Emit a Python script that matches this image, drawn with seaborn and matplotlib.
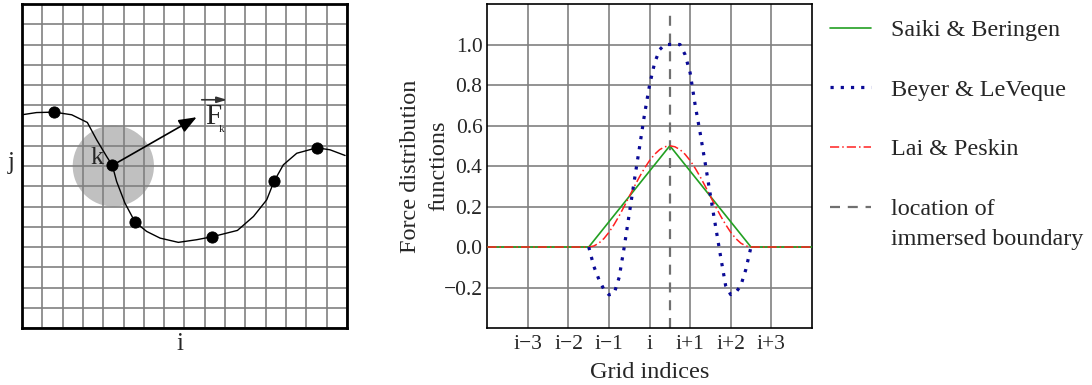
import numpy as np
import matplotlib
matplotlib.use("Agg")
import matplotlib.pyplot as plt
import seaborn as sns
from matplotlib.patches import Circle

# ---------------- data ----------------
# left panel: immersed boundary curve on a 16x16 grid
curve_x = [0.0, 0.72, 1.59, 2.45, 3.22, 3.68, 4.17, 4.45, 4.66, 5.07, 5.57, 6.14, 6.80,
           7.70, 8.60, 9.38, 10.61, 11.40, 12.05, 12.41, 12.87, 13.53, 14.52, 15.17, 15.91]
curve_y = [10.53, 10.64, 10.66, 10.53, 10.15, 9.29, 8.47, 8.03, 7.24, 6.17, 5.23, 4.77, 4.44,
           4.23, 4.36, 4.51, 4.82, 5.51, 6.33, 7.24, 8.06, 8.63, 8.90, 8.80, 8.52]
marker_x = [1.59, 4.45, 5.57, 9.38, 12.41, 14.52]
marker_y = [10.66, 8.03, 5.23, 4.51, 7.24, 8.90]
force_start = (4.45, 8.03)
force_end = (8.60, 10.41)

# right panel: force distribution functions
saiki_x = [-4.0, -1.5, 0.5, 2.5, 4.0]
saiki_y = [0.0, 0.0, 0.5, 0.0, 0.0]

beyer_x = [-1.5, -1.375, -1.25, -1.125, -1.0, -0.875, -0.75, -0.625, -0.5, -0.375, -0.25,
           -0.125, 0.0, 0.125, 0.25, 0.375, 0.5, 0.625, 0.75, 0.875, 1.0, 1.125, 1.25,
           1.375, 1.5, 1.625, 1.75, 1.875, 2.0, 2.125, 2.25, 2.375, 2.5]
beyer_y = [0.0, -0.095, -0.16, -0.21, -0.236, -0.23, -0.15, 0.0, 0.165, 0.33, 0.49,
           0.655, 0.80, 0.91, 0.975, 1.0, 1.0, 1.0, 1.0, 0.95, 0.86, 0.70, 0.56,
           0.41, 0.255, 0.105, -0.045, -0.19, -0.235, -0.225, -0.19, -0.11, 0.0]

lai_x = [-4.0, -1.5, -1.375, -1.25, -1.125, -1.0, -0.875, -0.75, -0.625, -0.5, -0.375, -0.25,
         -0.125, 0.0, 0.125, 0.25, 0.375, 0.5, 0.625, 0.75, 0.875, 1.0, 1.125, 1.25,
         1.375, 1.5, 1.625, 1.75, 1.875, 2.0, 2.125, 2.25, 2.375, 2.5, 4.0]
lai_y = [0.0, 0.0, 0.005, 0.019, 0.042, 0.073, 0.111, 0.154, 0.201, 0.25, 0.299, 0.346,
         0.389, 0.427, 0.458, 0.481, 0.495, 0.5, 0.495, 0.481, 0.458, 0.427, 0.389, 0.346,
         0.299, 0.25, 0.201, 0.154, 0.111, 0.073, 0.042, 0.019, 0.005, 0.0, 0.0]

boundary_x = 0.5

x_ticks = [-3, -2, -1, 0, 1, 2, 3]
x_tick_labels = ["i\u22123", "i\u22122", "i\u22121", "i", "i+1", "i+2", "i+3"]
y_ticks = [-0.2, 0.0, 0.2, 0.4, 0.6, 0.8, 1.0]
y_tick_labels = ["\u22120.2", "0.0", "0.2", "0.4", "0.6", "0.8", "1.0"]

legend_labels = ["Saiki & Beringen", "Beyer & LeVeque", "Lai & Peskin", "location of"]
legend_extra_line = "immersed boundary"

# ---------------- style ----------------
sns.set_theme(style="white")
plt.rcParams["font.family"] = ["Liberation Serif", "DejaVu Serif"]

fig = plt.figure(figsize=(10.92, 3.85), dpi=100)
axL = fig.add_axes([0.0201, 0.148, 0.2976, 0.8416])
axR = fig.add_axes([0.4463, 0.148, 0.2971, 0.8416])

# ---------------- left panel ----------------
axL.set_xlim(0, 16)
axL.set_ylim(0, 16)
axL.set_xticks(range(17))
axL.set_yticks(range(17))
axL.set_xticklabels([])
axL.set_yticklabels([])
axL.tick_params(length=0)
axL.set_axisbelow(True)
axL.grid(True, color="#808080", lw=1.2)
for s in axL.spines.values():
    s.set_color("black")
    s.set_linewidth(2.0)

axL.add_patch(Circle((4.5, 8.0), 2.0, facecolor="#c0c0c0", edgecolor="none", zorder=0.2))
sns.lineplot(x=curve_x, y=curve_y, sort=False, estimator=None, ax=axL,
             color="black", lw=1.0, zorder=3)
sns.scatterplot(x=marker_x, y=marker_y, ax=axL, color="black", s=65, zorder=4,
                edgecolor="black")
axL.annotate("", xy=force_end, xytext=force_start,
             arrowprops=dict(arrowstyle="-|>,head_length=0.9,head_width=0.35",
                             color="black", lw=1.2, shrinkA=0, shrinkB=0), zorder=5)
axL.annotate("", xy=(10.1, 11.27), xytext=(8.85, 11.27),
             arrowprops=dict(arrowstyle="-|>,head_length=0.5,head_width=0.15",
                             color="#333333", lw=1.2, shrinkA=0, shrinkB=0), zorder=5)
axL.text(9.43, 10.42, "F", fontsize=21, ha="center", va="center", zorder=6)
axL.text(9.85, 9.80, "k", fontsize=8, ha="center", va="center", zorder=6)
axL.text(3.72, 8.38, "k", fontsize=19, ha="center", va="center", zorder=6)
axL.text(-0.55, 8.15, "j", fontsize=18, ha="center", va="center", clip_on=False)
axL.text(7.78, -0.78, "i", fontsize=18, ha="center", va="center", clip_on=False)

# ---------------- right panel ----------------
axR.set_xlim(-4, 4)
axR.set_ylim(-0.4, 1.2)
axR.set_xticks(x_ticks)
axR.set_xticklabels(x_tick_labels, fontsize=15.5)
axR.set_yticks(y_ticks)
axR.set_yticklabels(y_tick_labels, fontsize=15.5)
axR.tick_params(axis="y", length=0, pad=3.5)
axR.tick_params(axis="x", length=0, pad=5)
axR.set_axisbelow(True)
axR.grid(True, color="#808080", lw=1.2)
for s in axR.spines.values():
    s.set_color("black")
    s.set_linewidth(1.2)

sns.lineplot(x=saiki_x, y=saiki_y, ax=axR, color="#22a022", lw=1.2,
             label=legend_labels[0], zorder=3)
sns.lineplot(x=beyer_x, y=beyer_y, ax=axR, color="#0a0a96", lw=2.3,
             linestyle=(0, (1.0, 2.2)), label=legend_labels[1], zorder=4)
sns.lineplot(x=lai_x, y=lai_y, ax=axR, color="#ff2020", lw=1.1,
             linestyle=(0, (6, 2, 1, 2)), label=legend_labels[2], zorder=3.5)
axR.axvline(boundary_x, ymin=0, ymax=0.98, color="#707070", lw=1.6,
            linestyle=(0, (4.5, 3.5)), label=legend_labels[3], zorder=2)

axR.set_xlabel("Grid indices", fontsize=17.5, labelpad=6)
axR.set_ylabel("Force distribution\nfunctions", fontsize=17.5, labelpad=-4, linespacing=1.45)

handles, labels = axR.get_legend_handles_labels()
leg = axR.legend(handles, labels, loc="upper left", bbox_to_anchor=(1.055, 0.953),
                 frameon=False, fontsize=17.4, handlelength=1.7, handletextpad=0.85,
                 labelspacing=1.56, borderaxespad=0, borderpad=0)

# second line of the last legend label, placed right under "location of"
fig.canvas.draw()
renderer = fig.canvas.get_renderer()
last_txt = leg.get_texts()[-1]
bb = last_txt.get_window_extent(renderer)
fig.text(bb.x0 / fig.bbox.width, (bb.y0 - 30) / fig.bbox.height,
         legend_extra_line, fontsize=17.4, ha="left", va="bottom")

fig.savefig("out.png", dpi=100)
